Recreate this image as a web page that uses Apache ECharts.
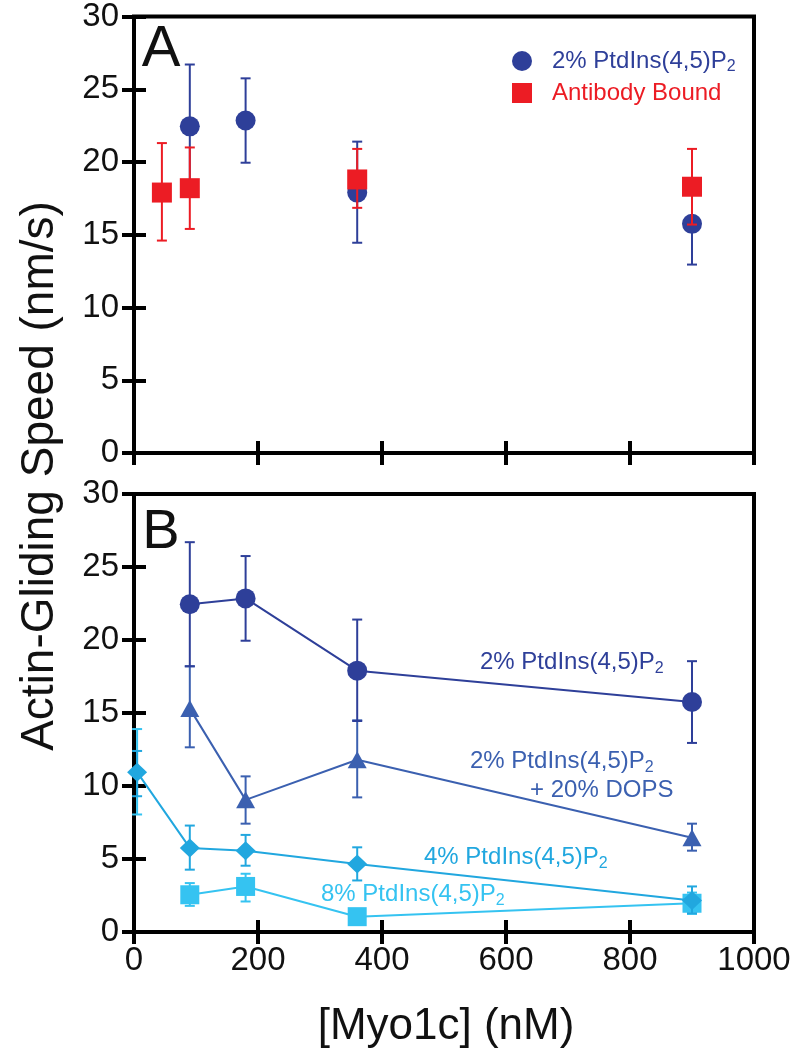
<!DOCTYPE html>
<html>
<head>
<meta charset="utf-8">
<script src="https://cdn.jsdelivr.net/npm/echarts@6/dist/echarts.min.js"></script>
<style>
html,body{margin:0;padding:0;background:#fff;}
#c{width:794px;height:1050px;}
</style>
</head>
<body>
<div id="c"></div>
<script>
// ---------- data ----------
const xPts = [90, 180, 360, 900];
// 2% PtdIns(4,5)P2 (panels A and B)
const pip2Y  = [22.45, 22.85, 17.9, 15.75];
const pip2Lo = [18.2, 19.95, 14.45, 12.95];
const pip2Hi = [26.7, 25.75, 21.4, 18.55];
// Antibody bound (panel A)
const abX  = [45, 90, 360, 900];
const abY  = [17.9, 18.2, 18.8, 18.3];
const abLo = [14.6, 15.4, 16.85, 15.7];
const abHi = [21.3, 21.0, 20.9, 20.9];
// 2% PtdIns(4,5)P2 + 20% DOPS
const dopsY  = [15.3, 9.05, 11.8, 6.45];
const dopsLo = [12.65, 7.42, 9.22, 5.57];
const dopsHi = [18.2, 10.66, 14.5, 7.42];
// 4% PtdIns(4,5)P2
const pip4X  = [5, 90, 180, 360, 900];
const pip4Y  = [10.95, 5.76, 5.57, 4.66, 2.16];
const pip4Lo = [9.3, 4.27, 4.54, 3.53, 1.28];
const pip4Hi = [12.4, 7.29, 6.65, 5.8, 3.12];
// 8% PtdIns(4,5)P2
const pip8Y  = [2.55, 3.12, 1.05, 1.97];
const pip8Lo = [1.79, 2.09, 0.85, 1.24];
const pip8Hi = [3.35, 3.99, 1.25, 2.7];
const pip8ExtraX  = [5];
const pip8ExtraLo = [8.05];
const pip8ExtraHi = [13.9];

const xMin = 0, xMax = 1000, xStep = 200;
const yMin = 0, yMax = 30, yStep = 5;

// ---------- style ----------
const FONT = "'Liberation Sans', Arial, Helvetica, sans-serif";
const C_PIP2 = '#2e3f99';
const C_DOPS = '#3b60b0';
const C_PIP4 = '#21a7df';
const C_PIP8 = '#35c3f1';
const C_AB   = '#ec1c24';

const pairs = (xs, ys) => xs.map((x, i) => [x, ys[i]]);
const triples = (xs, lo, hi) => xs.map((x, i) => [x, lo[i], hi[i]]);

function errSeries(name, xs, lo, hi, color, gi, z) {
  return {
    type: 'custom', name: name, xAxisIndex: gi * 2, yAxisIndex: gi * 2, z: z,
    data: triples(xs, lo, hi),
    encode: { x: 0, y: [1, 2] },
    renderItem: function (params, api) {
      const x = api.value(0), l = api.value(1), h = api.value(2);
      const a = api.coord([x, l]), b = api.coord([x, h]);
      const w = 5, st = { stroke: color, lineWidth: 2 };
      return { type: 'group', children: [
        { type: 'line', shape: { x1: a[0], y1: a[1], x2: b[0], y2: b[1] }, style: st },
        { type: 'line', shape: { x1: a[0] - w, y1: a[1], x2: a[0] + w, y2: a[1] }, style: st },
        { type: 'line', shape: { x1: b[0] - w, y1: b[1], x2: b[0] + w, y2: b[1] }, style: st }
      ]};
    }
  };
}

function xAx(gi, pos, labels) {
  return {
    type: 'value', gridIndex: gi, position: pos, min: xMin, max: xMax, interval: xStep,
    axisLine: { show: false }, splitLine: { show: false },
    axisTick: { show: true, inside: true, length: 12, lineStyle: { color: '#000', width: 4 } },
    axisLabel: { show: labels, margin: 12, fontSize: 33, fontFamily: FONT, color: '#111',
                 formatter: function (v) { return String(v); } }
  };
}
function yAx(gi, pos, labels) {
  return {
    type: 'value', gridIndex: gi, position: pos, min: yMin, max: yMax, interval: yStep,
    axisLine: { show: false }, splitLine: { show: false },
    axisTick: { show: true, inside: true, length: 12, lineStyle: { color: '#000', width: 4 } },
    axisLabel: { show: labels, margin: 15, fontSize: 33, fontFamily: FONT, color: '#111',
                 formatter: function (v) { return String(v); } }
  };
}

function subRich(color) {
  return {
    m: { color: color, fill: color, fontSize: 24, fontFamily: FONT, lineHeight: 30 },
    s: { color: color, fill: color, fontSize: 16, fontFamily: FONT, lineHeight: 12, verticalAlign: 'bottom' }
  };
}
function labelText(x, y, txt, sub, color) {
  return {
    type: 'text', x: x, y: y, z: 50,
    style: {
      text: sub ? '{m|' + txt + '}{s|2}' : '{m|' + txt + '}',
      rich: subRich(color), align: 'left', verticalAlign: 'middle'
    }
  };
}

const chart = echarts.init(document.getElementById('c'), null, { renderer: 'canvas' });

const option = {
  animation: false,
  backgroundColor: '#fff',
  grid: [
    { left: 134, top: 15, width: 620, height: 438, show: true, borderColor: '#000', borderWidth: 4, backgroundColor: 'transparent' },
    { left: 134, top: 494, width: 620, height: 438, show: true, borderColor: '#000', borderWidth: 4, backgroundColor: 'transparent' }
  ],
  xAxis: [ xAx(0, 'bottom', false), xAx(0, 'top', false), xAx(1, 'bottom', true), xAx(1, 'top', false) ],
  yAxis: [ yAx(0, 'left', true), yAx(0, 'right', false), yAx(1, 'left', true), yAx(1, 'right', false) ],
  legend: {
    orient: 'vertical', left: 507, top: 44, itemWidth: 20, itemHeight: 20, itemGap: 6,
    selectedMode: false,
    data: [ { name: '2% PtdIns(4,5)P2', icon: 'circle' }, { name: 'Antibody Bound', icon: 'rect' } ],
    formatter: function (n) { return n === 'Antibody Bound' ? '{r|Antibody Bound}' : '{b|2% PtdIns(4,5)P}{bs|2}'; },
    textStyle: {
      padding: [0, 0, 0, 15],
      rich: {
        b: { color: C_PIP2, fontSize: 24, fontFamily: FONT, lineHeight: 28 },
        bs: { color: C_PIP2, fontSize: 16, fontFamily: FONT, lineHeight: 12, verticalAlign: 'bottom' },
        r: { color: C_AB, fontSize: 24, fontFamily: FONT, lineHeight: 28 }
      }
    }
  },
  graphic: [
    { type: 'text', x: 161, y: 50, z: 50, style: { text: 'A', fontSize: 58, fontFamily: FONT, fill: '#111', align: 'center', verticalAlign: 'middle' } },
    { type: 'text', x: 161, y: 533, z: 50, style: { text: 'B', fontSize: 56, fontFamily: FONT, fill: '#111', align: 'center', verticalAlign: 'middle' } },
    { type: 'text', x: 40, y: 476, rotation: Math.PI / 2, z: 50, style: { text: 'Actin-Gliding Speed (nm/s)', fontSize: 46, fontFamily: FONT, fill: '#111', align: 'center', verticalAlign: 'middle' } },
    { type: 'text', x: 446, y: 1027, z: 50, style: { text: '[Myo1c] (nM)', fontSize: 44, fontFamily: FONT, fill: '#111', align: 'center', verticalAlign: 'middle' } },
    labelText(480, 662, '2% PtdIns(4,5)P', true, C_PIP2),
    labelText(470, 761, '2% PtdIns(4,5)P', true, C_DOPS),
    labelText(530, 790, '+ 20% DOPS', false, C_DOPS),
    labelText(424, 857, '4% PtdIns(4,5)P', true, C_PIP4),
    labelText(321, 894, '8% PtdIns(4,5)P', true, C_PIP8)
  ],
  series: [
    // ---- panel A ----
    errSeries('errA1', xPts, pip2Lo, pip2Hi, C_PIP2, 0, 3),
    { type: 'scatter', name: '2% PtdIns(4,5)P2', xAxisIndex: 0, yAxisIndex: 0, z: 4,
      data: pairs(xPts, pip2Y), symbol: 'circle', symbolSize: 20, itemStyle: { color: C_PIP2, opacity: 1 } },
    errSeries('errA2', abX, abLo, abHi, C_AB, 0, 5),
    { type: 'scatter', name: 'Antibody Bound', xAxisIndex: 0, yAxisIndex: 0, z: 6,
      data: pairs(abX, abY), symbol: 'rect', symbolSize: 20, itemStyle: { color: C_AB, opacity: 1 } },
    // ---- panel B ----
    errSeries('errB8x', pip8ExtraX, pip8ExtraLo, pip8ExtraHi, C_PIP8, 1, 3),
    errSeries('errB8', xPts, pip8Lo, pip8Hi, C_PIP8, 1, 3),
    { type: 'line', name: 'B8', xAxisIndex: 2, yAxisIndex: 2, z: 4, clip: false,
      data: pairs(xPts, pip8Y), symbol: 'rect', symbolSize: 19,
      lineStyle: { color: C_PIP8, width: 2 }, itemStyle: { color: C_PIP8 } },
    errSeries('errB4', pip4X, pip4Lo, pip4Hi, C_PIP4, 1, 5),
    { type: 'line', name: 'B4', xAxisIndex: 2, yAxisIndex: 2, z: 6, clip: false,
      data: pairs(pip4X, pip4Y), symbol: 'diamond', symbolSize: [20, 19],
      lineStyle: { color: C_PIP4, width: 2 }, itemStyle: { color: C_PIP4 } },
    errSeries('errBd', xPts, dopsLo, dopsHi, C_DOPS, 1, 7),
    { type: 'line', name: 'BD', xAxisIndex: 2, yAxisIndex: 2, z: 8, clip: false,
      data: pairs(xPts, dopsY), symbol: 'triangle', symbolSize: [19, 17],
      lineStyle: { color: C_DOPS, width: 2 }, itemStyle: { color: C_DOPS } },
    errSeries('errB2', xPts, pip2Lo, pip2Hi, C_PIP2, 1, 9),
    { type: 'line', name: 'B2', xAxisIndex: 2, yAxisIndex: 2, z: 10, clip: false,
      data: pairs(xPts, pip2Y), symbol: 'circle', symbolSize: 20,
      lineStyle: { color: C_PIP2, width: 2 }, itemStyle: { color: C_PIP2 } }
  ]
};
chart.setOption(option);
</script>
</body>
</html>
